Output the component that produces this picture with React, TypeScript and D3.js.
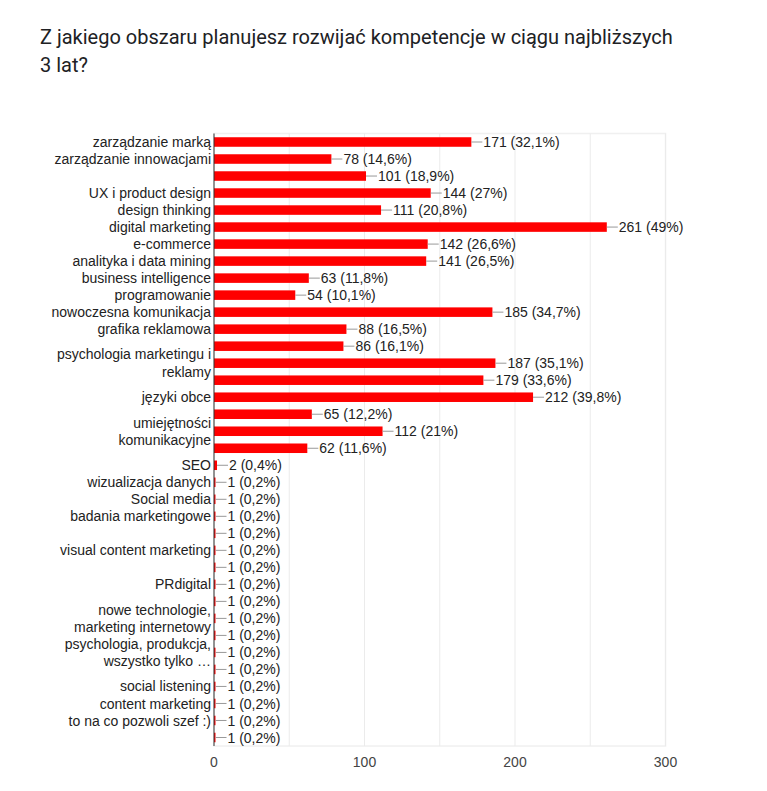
import React from "react";
import * as d3 from "d3";

const titleLines = ["Z jakiego obszaru planujesz rozwijać kompetencje w ciągu najbliższych", "3 lat?"];

// Displayed labels (multi-line labels as arrays); "" = label not shown in the chart
const categories: string[][] = [
  ["zarządzanie marką"],
  ["zarządzanie innowacjami"],
  [""],
  ["UX i product design"],
  ["design thinking"],
  ["digital marketing"],
  ["e-commerce"],
  ["analityka i data mining"],
  ["business intelligence"],
  ["programowanie"],
  ["nowoczesna komunikacja"],
  ["grafika reklamowa"],
  [""],
  ["psychologia marketingu i", "reklamy"],
  [""],
  ["języki obce"],
  [""],
  ["umiejętności", "komunikacyjne"],
  [""],
  ["SEO"],
  ["wizualizacja danych"],
  ["Social media"],
  ["badania marketingowe"],
  [""],
  ["visual content marketing"],
  [""],
  ["PRdigital"],
  [""],
  ["nowe technologie,", "marketing internetowy"],
  [""],
  ["psychologia, produkcja,", "wszystko tylko …"],
  [""],
  ["social listening"],
  ["content marketing"],
  ["to na co pozwoli szef :)"],
  [""],
];

const counts = [171, 78, 101, 144, 111, 261, 142, 141, 63, 54, 185, 88, 86, 187, 179, 212, 65, 112, 62, 2, 1, 1, 1, 1, 1, 1, 1, 1, 1, 1, 1, 1, 1, 1, 1, 1];
const percents = ["32,1%", "14,6%", "18,9%", "27%", "20,8%", "49%", "26,6%", "26,5%", "11,8%", "10,1%", "34,7%", "16,5%", "16,1%", "35,1%", "33,6%", "39,8%", "12,2%", "21%", "11,6%", "0,4%", "0,2%", "0,2%", "0,2%", "0,2%", "0,2%", "0,2%", "0,2%", "0,2%", "0,2%", "0,2%", "0,2%", "0,2%", "0,2%", "0,2%", "0,2%", "0,2%"];

const xTicks = [0, 100, 200, 300];
const xGrid = [50, 100, 150, 200, 250, 300];

export default function App() {
  const W = 767;
  const H = 791;
  const left = 214;
  const right = 665.5;
  const top = 133.5;
  const bottom = 746;

  const x = d3.scaleLinear().domain([0, 300]).range([left, right]);
  const y = d3
    .scaleBand<number>()
    .domain(counts.map((_, i) => i))
    .range([top, bottom])
    .paddingInner(0.44)
    .paddingOuter(0.22);

  const font = "Arial, 'Liberation Sans', sans-serif";

  return (
    <svg
      width={W}
      height={H}
      style={{ position: "absolute", left: 0, top: 0, background: "#fff" }}
    >
      <rect x={0} y={0} width={W} height={H} fill="#fff" />
      <text
        x={40}
        fontFamily="Roboto, sans-serif"
        fontSize={20}
        fill="#202124"
      >
        {titleLines.map((l, i) => (
          <tspan key={i} x={40} y={43.5 + i * 28.5}>
            {l}
          </tspan>
        ))}
      </text>

      {/* chart area border */}
      <rect
        x={left}
        y={top}
        width={right - left}
        height={bottom - top}
        fill="none"
        stroke="#f0f0f0"
        strokeWidth={1.5}
      />
      {xGrid.map((t) => (
        <line
          key={t}
          x1={x(t)}
          x2={x(t)}
          y1={top}
          y2={bottom}
          stroke="#ebebeb"
          strokeWidth={1}
        />
      ))}

      {counts.map((v, i) => {
        const yy = y(i)!;
        const bh = y.bandwidth();
        const cy = yy + bh / 2;
        const xe = x(v);
        return (
          <g key={i}>
            <rect x={x(0)} y={yy} width={xe - x(0)} height={bh} fill="#ff0000" />
            <line x1={xe} x2={xe + 11} y1={cy} y2={cy} stroke="#999" strokeWidth={1} />
            <text
              x={xe + 12}
              y={cy}
              dy="0.36em"
              fontFamily={font}
              fontSize={14}
              fill="#222"
            >
              {`${v} (${percents[i]})`}
            </text>
          </g>
        );
      })}

      {categories.map((lines, i) => {
        const cy = y(i)! + y.bandwidth() / 2;
        const n = lines.length;
        return (
          <text
            key={i}
            textAnchor="end"
            fontFamily={font}
            fontSize={14}
            fill="#222"
          >
            {lines.map((l, j) => (
              <tspan key={j} x={left - 3} y={cy + (j - (n - 1) / 2) * 17.5} dy="0.36em">
                {l}
              </tspan>
            ))}
          </text>
        );
      })}

      {/* zero axis */}
      <line x1={x(0)} x2={x(0)} y1={top} y2={bottom} stroke="#333" strokeWidth={1} />

      {xTicks.map((t) => (
        <text
          key={t}
          x={x(t)}
          y={767}
          textAnchor="middle"
          fontFamily={font}
          fontSize={14}
          fill="#444"
        >
          {t}
        </text>
      ))}
    </svg>
  );
}
